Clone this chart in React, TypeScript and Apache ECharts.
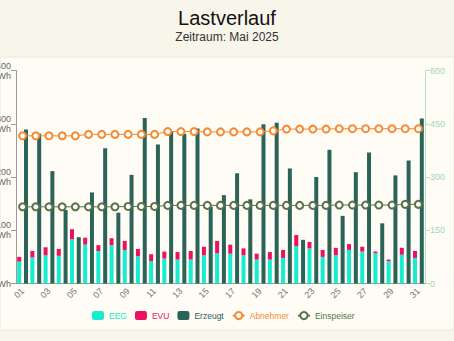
import React, { useEffect, useRef } from "react";
import * as echarts from "echarts";

const days = ["01","02","03","04","05","06","07","08","09","10","11","12","13","14","15","16","17","18","19","20","21","22","23","24","25","26","27","28","29","30","31"];
const eeg = [41,49,53,52,83,73,61,72,63,51,42,47,45,45,53,57,56,53,45,45,48,70,66,50,53,63,60,57,42,54,48];
const evu = [9,12,15,13,19,13,11,13,17,14,13,13,14,16,16,23,17,13,11,14,15,21,12,13,14,11,9,3,3,13,13];
const erzeugt = [289,281,211,138,87,171,254,133,204,311,261,285,281,291,144,166,207,158,299,302,216,82,200,251,127,209,246,113,203,231,310];
const abnehmer = [416,416,416,416,416,420,420,420,420,420,420,428,428,428,427,427,427,427,427,430,435,435,435,435,436,436,436,436,436,436,436];
const einspeiser = [216,216,216,216,216,216,216,216,217,217,217,220,220,220,220,220,220,220,220,220,220,220,220,220,221,221,221,221,221,223,223];

const C_EEG = "#17ecd0";
const C_EVU = "#ec115e";
const C_ERZ = "#2c6358";
const C_ABN = "#f68a32";
const C_EIN = "#5a7249";
const FONT = "Liberation Sans, Arial, sans-serif";

export default function App() {
  const ref = useRef<HTMLDivElement>(null);
  useEffect(() => {
    if (!ref.current) return;
    const chart = echarts.init(ref.current, undefined, { renderer: "svg" });
    chart.setOption({
      animation: false,
      backgroundColor: "#f8f5eb",
      textStyle: { fontFamily: FONT },
      graphic: [
        {
          type: "rect",
          shape: { x: 0, y: 57, width: 454, height: 273 },
          style: { fill: "#fefcf5", stroke: "#ece8dc", lineWidth: 1 },
          z: -10,
        },
      ],
      title: {
        text: "Lastverlauf",
        subtext: "Zeitraum: Mai 2025",
        left: "center",
        top: 3,
        itemGap: 3,
        textStyle: { fontSize: 20, fontWeight: "normal", color: "#111", fontFamily: FONT },
        subtextStyle: { fontSize: 12, color: "#333", fontFamily: FONT },
      },
      legend: {
        left: 87,
        top: 306,
        itemWidth: 12,
        itemHeight: 9,
        itemGap: 8,
        textStyle: { fontSize: 8.5, fontFamily: FONT },
        data: [
          { name: "EEG", textStyle: { color: C_EEG } },
          { name: "EVU", textStyle: { color: C_EVU } },
          { name: "Erzeugt", textStyle: { color: C_ERZ } },
          { name: "Abnehmer", textStyle: { color: C_ABN } },
          { name: "Einspeiser", textStyle: { color: C_EIN } },
        ],
      },
      grid: {
        left: 16,
        right: 29,
        top: 70.5,
        bottom: 57.5,
        containLabel: false,
        outerBoundsMode: "none",
      },
      xAxis: {
        type: "category",
        data: days,
        boundaryGap: true,
        axisLine: { lineStyle: { color: "#999" } },
        axisTick: { alignWithLabel: true, interval: 1, lineStyle: { color: "#999" } },
        axisLabel: { interval: 1, rotate: 45, fontSize: 9, color: "#777", margin: 6 },
      },
      yAxis: [
        {
          type: "value",
          min: 0,
          max: 400,
          interval: 100,
          splitLine: { show: false },
          axisLine: { show: true, lineStyle: { color: "#999" } },
          axisTick: { show: true, lineStyle: { color: "#999" } },
          axisLabel: {
            fontSize: 9,
            color: "#666",
            margin: 5,
            lineHeight: 10,
            formatter: (v: number) => (v === 0 ? "0 kWh" : v + "\nkWh"),
          },
        },
        {
          type: "value",
          min: 0,
          max: 600,
          interval: 150,
          splitLine: { show: false },
          axisLine: { show: true, lineStyle: { color: "#b3e2c4" } },
          axisTick: { show: true, lineStyle: { color: "#b3e2c4" } },
          axisLabel: { fontSize: 9, color: "#a2d8b4", margin: 5 },
        },
      ],
      series: [
        {
          name: "EEG",
          type: "bar",
          stack: "bezug",
          data: eeg,
          barWidth: 4,
          barGap: "70%",
          itemStyle: { color: C_EEG },
        },
        {
          name: "EVU",
          type: "bar",
          stack: "bezug",
          data: evu,
          barWidth: 4,
          barGap: "70%",
          itemStyle: { color: C_EVU },
        },
        {
          name: "Erzeugt",
          type: "bar",
          data: erzeugt,
          barWidth: 4,
          barGap: "70%",
          itemStyle: { color: C_ERZ },
        },
        {
          name: "Abnehmer",
          type: "line",
          yAxisIndex: 1,
          data: abnehmer,
          symbol: "emptyCircle",
          symbolSize: 7,
          lineStyle: { color: C_ABN, width: 1 },
          itemStyle: { color: C_ABN, borderWidth: 1 },
        },
        {
          name: "Einspeiser",
          type: "line",
          yAxisIndex: 1,
          data: einspeiser,
          symbol: "emptyCircle",
          symbolSize: 7,
          lineStyle: { color: C_EIN, width: 1 },
          itemStyle: { color: C_EIN, borderWidth: 1 },
        },
      ],
    });
    return () => chart.dispose();
  }, []);
  return (
    <div
      ref={ref}
      style={{ position: "absolute", left: 0, top: 0, width: 454, height: 341 }}
    />
  );
}
